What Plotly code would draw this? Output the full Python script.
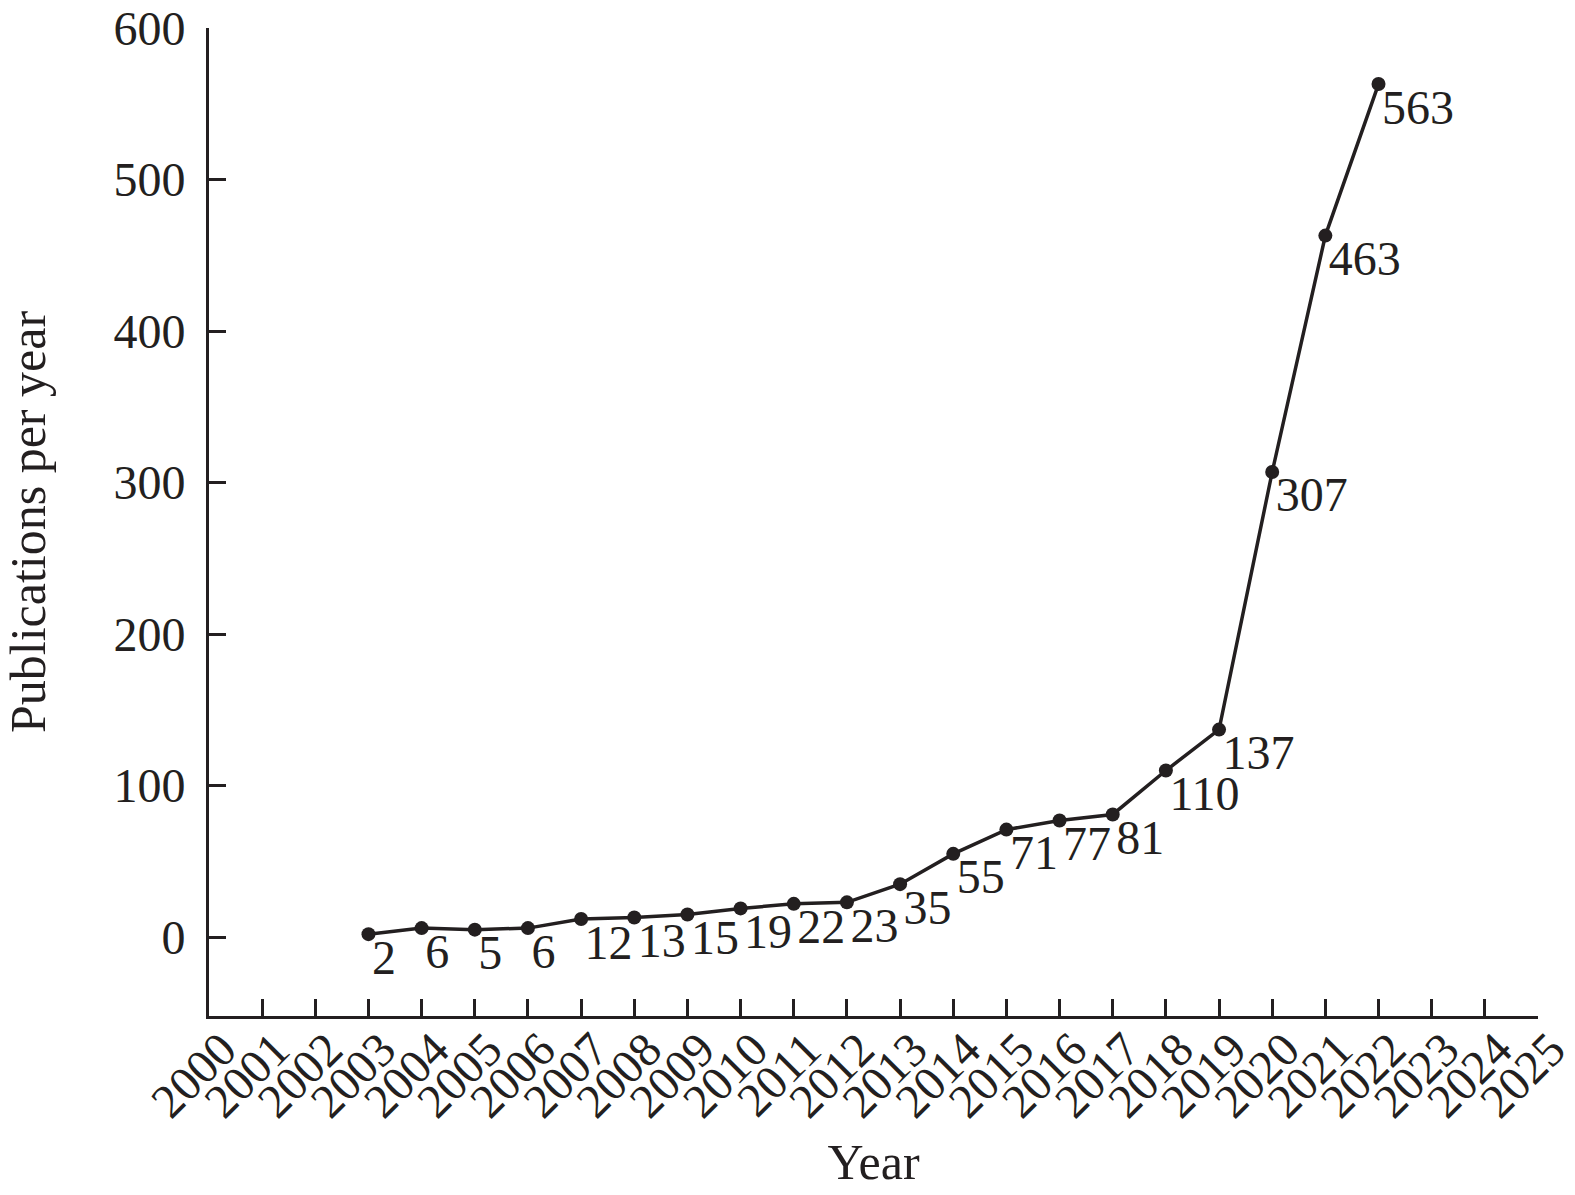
import plotly.graph_objects as go

years = [2003, 2004, 2005, 2006, 2007, 2008, 2009, 2010, 2011, 2012,
         2013, 2014, 2015, 2016, 2017, 2018, 2019, 2020, 2021, 2022]
publications = [2, 6, 5, 6, 12, 13, 15, 19, 22, 23,
                35, 55, 71, 77, 81, 110, 137, 307, 463, 563]
x_ticks = list(range(2000, 2026))
x_tick_labels = [str(y) for y in x_ticks]
y_ticks = [0, 100, 200, 300, 400, 500, 600]

INK = "#231f20"
FONT = "Liberation Serif, Times New Roman, serif"

fig = go.Figure()
fig.add_trace(go.Scatter(
    x=years, y=publications,
    mode="lines+markers",
    line=dict(color=INK, width=3.5),
    marker=dict(color=INK, size=14),
    showlegend=False,
))
# value labels (own trace so their offset from the point is small, as in the reference)
fig.add_trace(go.Scatter(
    x=years, y=publications,
    mode="markers+text",
    marker=dict(color=INK, size=4, opacity=0),
    text=[str(v) for v in publications],
    textposition="bottom right",
    textfont=dict(family=FONT, size=48, color=INK),
    cliponaxis=False,
    showlegend=False,
))

fig.update_layout(
    width=1575, height=1195,
    margin=dict(l=209, r=37, t=28, b=179),
    paper_bgcolor="white", plot_bgcolor="white",
    font=dict(family=FONT, size=48, color=INK),
)
fig.update_xaxes(
    range=[2000, 2025],
    tickmode="array", tickvals=x_ticks, ticktext=x_tick_labels,
    tickangle=-45,
    ticks="inside", ticklen=17, tickwidth=3, tickcolor=INK,
    showline=True, linewidth=3, linecolor=INK,
    showgrid=False, zeroline=False,
    tickfont=dict(family=FONT, size=48, color=INK),
    ticklabelshift=13,
    ticklabelstandoff=-17,
    ticklabeloverflow="allow",
    title=dict(text="Year", font=dict(family=FONT, size=50, color=INK), standoff=18),
    automargin=False,
)
fig.update_yaxes(
    range=[-52, 600],
    tickmode="array", tickvals=y_ticks,
    ticks="inside", ticklen=17, tickwidth=3, tickcolor=INK,
    showline=True, linewidth=3, linecolor=INK,
    showgrid=False, zeroline=False,
    tickfont=dict(family=FONT, size=48, color=INK),
    ticklabelstandoff=11,
    ticklabeloverflow="allow",
    title=dict(text="Publications per year", font=dict(family=FONT, size=50, color=INK), standoff=76),
    automargin=False,
)

# remove the page's default 8px body margin so the figure fills the window exactly
fig.write_html("out.html", config={"displayModeBar": False},
               post_script="document.body.style.margin='0';")
